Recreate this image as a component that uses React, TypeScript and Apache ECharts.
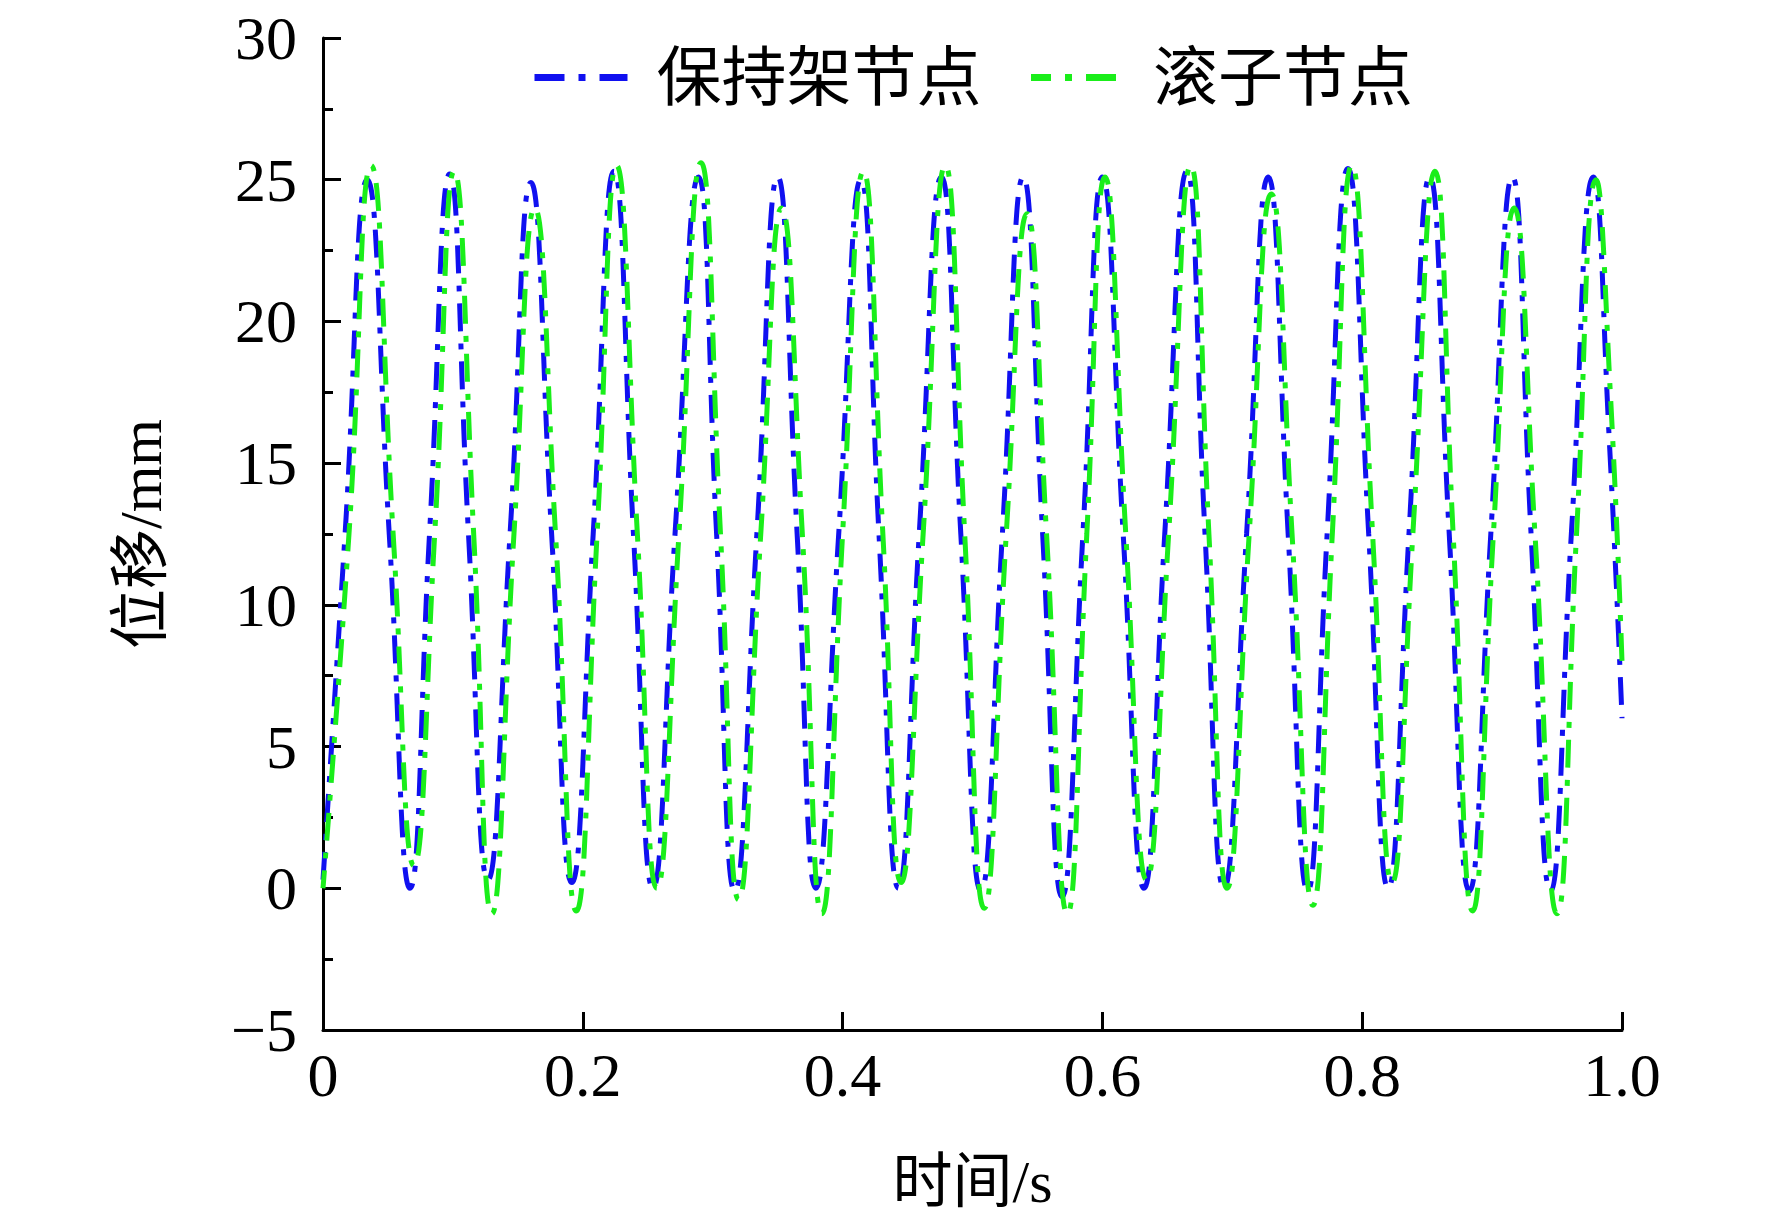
import React, { useEffect, useRef } from "react";
import * as echarts from "echarts";

// 保持架节点 (cage node) — time (s) and displacement (mm)
const cageTime = [
  0, 0.017, 0.034, 0.051, 0.067, 0.082, 0.0975, 0.112, 0.127, 0.144, 0.16, 0.176,
  0.1915, 0.208, 0.224, 0.239, 0.254, 0.271, 0.289, 0.303, 0.317, 0.334, 0.35,
  0.365, 0.3795, 0.397, 0.414, 0.428, 0.443, 0.459, 0.476, 0.491, 0.5065, 0.523,
  0.539, 0.554, 0.569, 0.585, 0.6, 0.616, 0.632, 0.648, 0.665, 0.679, 0.6936,
  0.711, 0.7276, 0.743, 0.758, 0.773, 0.789, 0.805, 0.82, 0.836, 0.852, 0.867,
  0.8825, 0.899, 0.9156, 0.93, 0.945, 0.961, 0.978, 0.99, 1.0,
];
const cageDisp = [
  0.3, 12.5, 25.0, 12.5, 0.0, 12.5, 25.2, 12.5, 0.3, 12.5, 24.9, 12.5, 0.2, 12.5,
  25.3, 12.5, 0.0, 12.5, 25.1, 12.5, -0.1, 12.5, 25.1, 12.5, 0.0, 12.5, 25.0,
  12.5, 0.0, 12.5, 25.1, 12.5, -0.1, 12.5, 25.1, 12.5, -0.3, 12.5, 25.1, 12.5,
  0.0, 12.5, 25.3, 12.5, 0.0, 12.5, 25.1, 12.5, -0.1, 12.5, 25.4, 12.5, 0.0,
  12.5, 25.1, 12.5, -0.1, 12.5, 25.1, 12.5, -0.1, 12.5, 25.1, 16.0, 6.0,
];

// 滚子节点 (roller node)
const rollerTime = [
  0, 0.02, 0.037, 0.054, 0.07, 0.086, 0.101, 0.116, 0.13, 0.147, 0.163, 0.179,
  0.195, 0.211, 0.226, 0.242, 0.257, 0.274, 0.291, 0.306, 0.32, 0.337, 0.353,
  0.369, 0.384, 0.4, 0.416, 0.431, 0.445, 0.462, 0.479, 0.494, 0.509, 0.526,
  0.542, 0.557, 0.573, 0.588, 0.602, 0.618, 0.634, 0.651, 0.668, 0.682, 0.696,
  0.713, 0.73, 0.746, 0.762, 0.777, 0.792, 0.808, 0.823, 0.839, 0.856, 0.87,
  0.885, 0.901, 0.917, 0.933, 0.95, 0.965, 0.98, 0.991, 1.0,
];
const rollerDisp = [
  0.0, 12.5, 25.5, 12.5, 0.8, 12.5, 25.3, 12.5, -0.9, 12.5, 24.0, 12.5, -0.8,
  12.5, 25.5, 12.5, 0.0, 12.5, 25.6, 12.5, -0.4, 12.5, 24.0, 12.5, -0.9, 12.5,
  25.3, 12.5, 0.2, 12.5, 25.5, 12.5, -0.7, 12.5, 23.8, 12.5, -0.9, 12.5, 25.1,
  12.5, 0.3, 12.5, 25.5, 12.5, 0.0, 12.5, 24.5, 12.5, -0.6, 12.5, 25.5, 12.5,
  0.2, 12.5, 25.3, 12.5, -0.8, 12.5, 24.0, 12.5, -0.9, 12.5, 25.0, 17.5, 8.0,
];

const seriesNames = ["保持架节点", "滚子节点"];
const xTicks = [0, 0.2, 0.4, 0.6, 0.8, 1.0];
const yTicks = [-5, 0, 5, 10, 15, 20, 25, 30];

const FONT = '"Liberation Serif", "Times New Roman", "Noto Sans CJK SC", serif';
const BLUE = "#1010f0";
const GREEN = "#1aee1a";

export default function App() {
  const ref = useRef<HTMLDivElement>(null);
  useEffect(() => {
    document.body.style.margin = "0";
    const chart = echarts.init(ref.current!, null, { renderer: "svg" });
    const zip = (xs: number[], ys: number[]) => xs.map((x, i) => [x, ys[i]]);
    const lineType = [28, 12, 6, 12];
    chart.setOption({
      animation: false,
      backgroundColor: "#ffffff",
      grid: { left: 323, right: 150, top: 38, bottom: 194, containLabel: false },
      legend: {
        left: 526,
        top: 40,
        itemWidth: 93,
        itemHeight: 20,
        itemGap: 46,
        itemStyle: { opacity: 0 },
        lineStyle: { width: 7, type: [30, 14, 7, 14] },
        textStyle: {
          fontFamily: FONT,
          fontSize: 65,
          color: "#000",
          padding: [0, 0, 0, 24],
        },
        data: seriesNames,
      },
      xAxis: {
        type: "value",
        min: xTicks[0],
        max: xTicks[xTicks.length - 1],
        interval: 0.2,
        name: "时间/s",
        nameLocation: "middle",
        nameGap: 122,
        nameTextStyle: { fontFamily: FONT, fontSize: 60, color: "#000" },
        axisLine: { onZero: false, lineStyle: { color: "#000", width: 3 } },
        axisTick: { inside: true, length: 18, lineStyle: { width: 3, color: "#000" } },
        minorTick: { show: false },
        splitLine: { show: false },
        axisLabel: {
          margin: 14,
          fontFamily: FONT,
          fontSize: 62,
          color: "#000",
          formatter: (v: number) => (v === 0 ? "0" : v.toFixed(1)),
        },
      },
      yAxis: {
        type: "value",
        min: yTicks[0],
        max: yTicks[yTicks.length - 1],
        interval: 5,
        name: "位移/mm",
        nameLocation: "middle",
        nameGap: 152,
        nameTextStyle: { fontFamily: FONT, fontSize: 60, color: "#000" },
        axisLine: { show: true, onZero: false, lineStyle: { color: "#000", width: 3 } },
        axisTick: { show: true, inside: true, length: 18, lineStyle: { width: 3, color: "#000" } },
        minorTick: { show: true, splitNumber: 2, length: 10, lineStyle: { width: 3, color: "#000" } },
        splitLine: { show: false },
        axisLabel: {
          margin: 26,
          fontFamily: FONT,
          fontSize: 62,
          color: "#000",
          formatter: (v: number) => (v < 0 ? "\u2212" + Math.abs(v) : String(v)),
        },
      },
      series: [
        {
          name: seriesNames[0],
          type: "line",
          data: zip(cageTime, cageDisp),
          symbol: "none",
          smooth: 0.5,
          color: BLUE,
          lineStyle: { color: BLUE, width: 5, type: lineType },
        },
        {
          name: seriesNames[1],
          type: "line",
          data: zip(rollerTime, rollerDisp),
          symbol: "none",
          smooth: 0.5,
          color: GREEN,
          lineStyle: { color: GREEN, width: 5, type: lineType, dashOffset: 10 },
        },
      ],
    });
    return () => chart.dispose();
  }, []);
  return <div ref={ref} style={{ width: 1772, height: 1224 }} />;
}
